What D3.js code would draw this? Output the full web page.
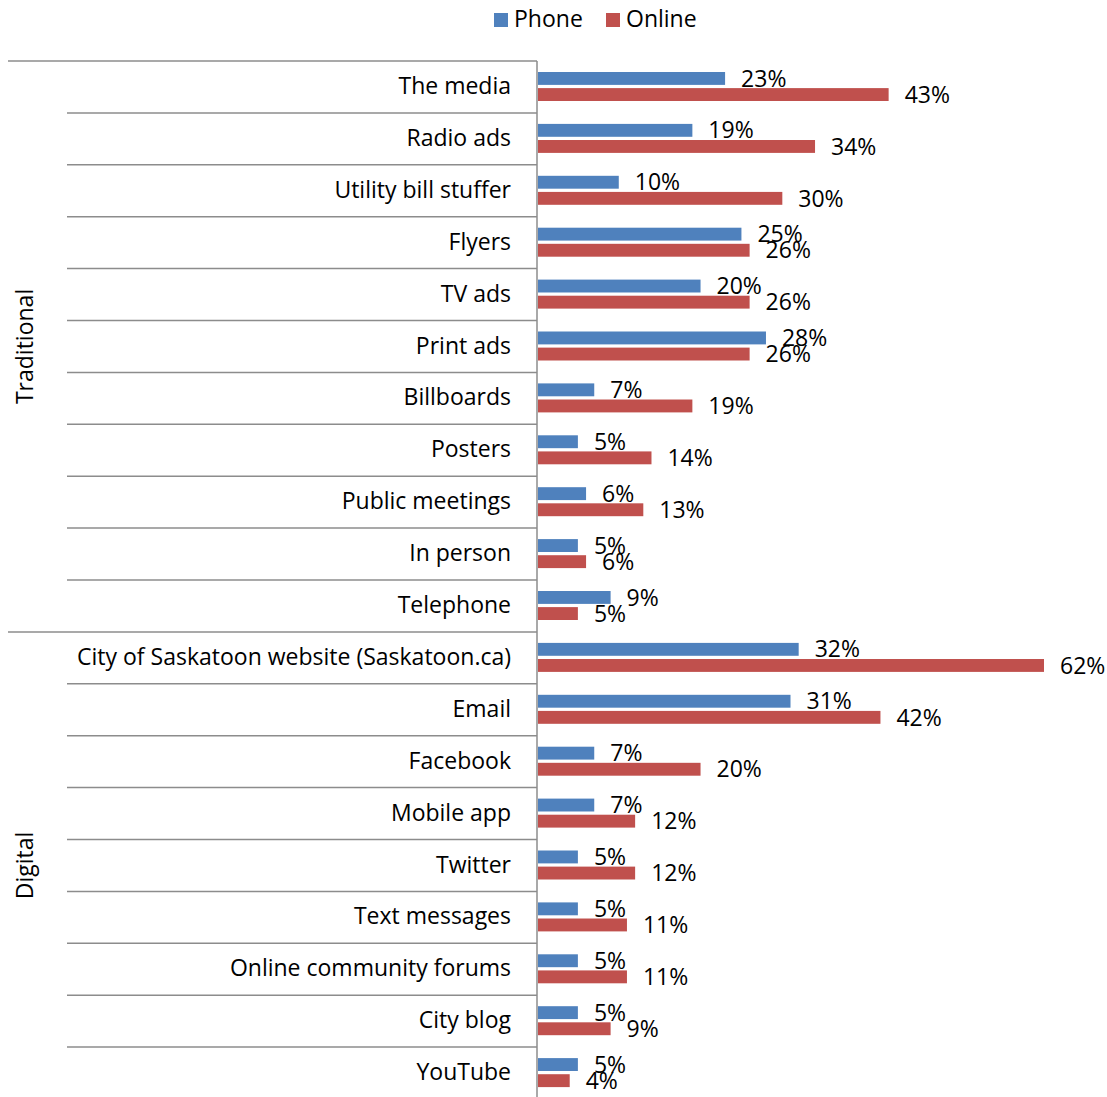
<!DOCTYPE html>
<html>
<head>
<meta charset="utf-8">
<script src="https://cdn.jsdelivr.net/npm/d3@7"></script>
<style>
  body { margin: 0; background: #fff; }
  text { font-family: "Open Sans", "Noto Sans", sans-serif; fill: #000; }
</style>
</head>
<body>
<div id="vis"></div>
<script>
// Declare constants
const FRAME_WIDTH = 1107;
const FRAME_HEIGHT = 1097;
const AXIS_X = 537;
const TOP = 61;
const ROW_H = 51.9;
const FONT = "23px";

// data
const CATEGORIES = ["The media", "Radio ads", "Utility bill stuffer", "Flyers", "TV ads",
  "Print ads", "Billboards", "Posters", "Public meetings", "In person", "Telephone",
  "City of Saskatoon website (Saskatoon.ca)", "Email", "Facebook", "Mobile app", "Twitter",
  "Text messages", "Online community forums", "City blog", "YouTube"];
const GROUPS = ["Traditional", "Digital"];
const GROUP_SIZES = [11, 9];
const SERIES = ["Phone", "Online"];
const PHONE = [23, 19, 10, 25, 20, 28, 7, 5, 6, 5, 9, 32, 31, 7, 7, 5, 5, 5, 5, 5];
const ONLINE = [43, 34, 30, 26, 26, 26, 19, 14, 13, 6, 5, 62, 42, 20, 12, 12, 11, 11, 9, 4];
const COLORS = {Phone: "#4F81BD", Online: "#C0504D"};

const FRAME = d3.select("#vis")
  .append("svg")
    .attr("width", FRAME_WIDTH)
    .attr("height", FRAME_HEIGHT);

// scales
const Y_SCALE = d3.scaleBand()
  .domain(CATEGORIES)
  .range([TOP, TOP + ROW_H * CATEGORIES.length]);

const SUB_SCALE = d3.scaleBand()
  .domain(SERIES)
  .range([11, 40])
  .paddingInner(0.2);

const X_SCALE = d3.scaleLinear()
  .domain([0, 62])
  .range([AXIS_X, 1044]);

const rows = CATEGORIES.map((c, i) => ({cat: c, Phone: PHONE[i], Online: ONLINE[i]}));

// row separators
const bounds = d3.range(CATEGORIES.length + 1).map(i => TOP + i * ROW_H);
const groupBounds = [0, GROUP_SIZES[0], CATEGORIES.length];
FRAME.selectAll(".sep")
  .data(bounds)
  .enter()
  .append("line")
    .attr("x1", (d, i) => groupBounds.includes(i) ? 8 : 67)
    .attr("x2", AXIS_X)
    .attr("y1", d => d)
    .attr("y2", d => d)
    .attr("stroke", "#8c8c8c")
    .attr("stroke-width", 1.5);

// axis line
FRAME.append("line")
  .attr("x1", AXIS_X).attr("x2", AXIS_X)
  .attr("y1", TOP).attr("y2", FRAME_HEIGHT)
  .attr("stroke", "#8c8c8c")
  .attr("stroke-width", 1.5);

// bars
const rowG = FRAME.selectAll(".row")
  .data(rows)
  .enter()
  .append("g")
    .attr("transform", d => "translate(0," + Y_SCALE(d.cat) + ")");

rowG.selectAll("rect")
  .data(d => SERIES.map(s => ({s: s, v: d[s]})))
  .enter()
  .append("rect")
    .attr("x", AXIS_X + 1)
    .attr("y", d => SUB_SCALE(d.s))
    .attr("width", d => X_SCALE(d.v) - AXIS_X - 1)
    .attr("height", SUB_SCALE.bandwidth())
    .attr("fill", d => COLORS[d.s]);

rowG.selectAll(".val")
  .data(d => SERIES.map(s => ({s: s, v: d[s]})))
  .enter()
  .append("text")
    .attr("x", d => X_SCALE(d.v) + 16)
    .attr("y", d => SUB_SCALE(d.s) + SUB_SCALE.bandwidth() / 2 + 2)
    .attr("dominant-baseline", "middle")
    .attr("font-size", FONT)
    .text(d => d.v + "%");

// category labels
rowG.append("text")
  .attr("x", 511)
  .attr("y", ROW_H / 2 + 1)
  .attr("text-anchor", "end")
  .attr("dominant-baseline", "middle")
  .attr("font-size", FONT)
  .text(d => d.cat);

// group labels
let start = 0;
GROUPS.forEach((g, i) => {
  const y0 = TOP + start * ROW_H;
  const y1 = TOP + (start + GROUP_SIZES[i]) * ROW_H;
  FRAME.append("text")
    .attr("transform", "translate(27," + ((y0 + y1) / 2) + ") rotate(-90)")
    .attr("text-anchor", "middle")
    .attr("dominant-baseline", "middle")
    .attr("font-size", FONT)
    .text(g);
  start += GROUP_SIZES[i];
});

// legend
const LEGEND = FRAME.append("g");
const legendX = [494, 606];
SERIES.forEach((s, i) => {
  LEGEND.append("rect")
    .attr("x", legendX[i]).attr("y", 13)
    .attr("width", 14).attr("height", 14)
    .attr("fill", COLORS[s]);
  LEGEND.append("text")
    .attr("x", legendX[i] + 20).attr("y", 21)
    .attr("dominant-baseline", "middle")
    .attr("font-size", FONT)
    .text(s);
});
</script>
</body>
</html>
